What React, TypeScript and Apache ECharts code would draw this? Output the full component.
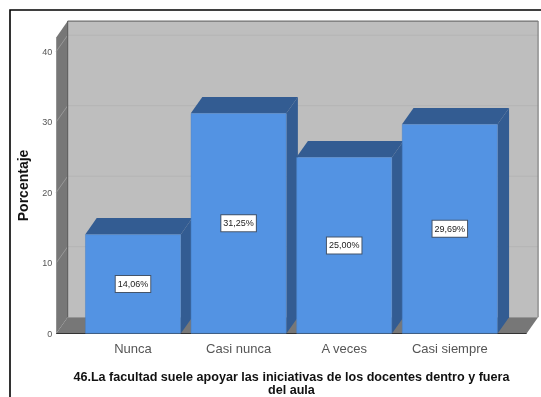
import React, { useEffect, useRef } from "react";
import * as echarts from "echarts";

const categories = ["Nunca", "Casi nunca", "A veces", "Casi siempre"];
const percentages = [14.06, 31.25, 25.0, 29.69];
const percentLabels = ["14,06%", "31,25%", "25,00%", "29,69%"];
const gridValues = [10, 20, 30, 40];
const axisMax = 42;
const axisTitle = "Porcentaje";
const chartTitle = "46.La facultad suele apoyar las iniciativas de los docentes dentro y fuera\ndel aula";

const DX = 11.5;
const DY = 16.3;
const SIDE_PAD = 24;
const WALL = "#777777";
const BACK = "#BEBEBE";
const FACE = "#5393E3";
const DEPTH = "#335C92";

function renderWalls(_: any, api: any) {
  const band = api.size([1, 0])[0];
  const l = api.coord([0, 0])[0] - band / 2 - SIDE_PAD;
  const r = api.coord([categories.length - 1, 0])[0] + band / 2 + SIDE_PAD;
  const y0 = api.coord([0, 0])[1];
  const yT = api.coord([0, axisMax])[1];
  const poly = (points: number[][], fill: string) => ({ type: "polygon", shape: { points }, style: { fill } });
  const line = (x1: number, y1: number, x2: number, y2: number, stroke: string, lineWidth = 1) => ({
    type: "line",
    shape: { x1, y1, x2, y2 },
    style: { stroke, lineWidth },
  });
  const children: any[] = [
    poly([[l + DX, yT - DY], [r + DX, yT - DY], [r + DX, y0 - DY], [l + DX, y0 - DY]], BACK),
    poly([[l, yT], [l + DX, yT - DY], [l + DX, y0 - DY], [l, y0]], WALL),
    poly([[l, y0], [r, y0], [r + DX, y0 - DY], [l + DX, y0 - DY]], WALL),
  ];
  gridValues.forEach((v) => {
    const y = api.coord([0, v])[1];
    children.push(line(l + DX, y - DY, r + DX, y - DY, "#B4B4B4"));
    children.push(line(l, y, l + DX, y - DY, "#989898"));
  });
  children.push(line(l + DX, yT - DY, r + DX, yT - DY, "#707070", 1.2));
  children.push(line(r + DX, yT - DY, r + DX, y0 - DY, "#808080", 1.2));
  children.push(line(l + DX, yT - DY, l + DX, y0 - DY, "#555555", 1));
  children.push(line(l, y0, r, y0, "#333333", 1));
  return { type: "group", children };
}

function renderDepth(_: any, api: any) {
  const idx = api.value(0);
  const c = api.coord([idx, api.value(1)]);
  const base = api.coord([idx, 0]);
  const w = api.size([1, 0])[0] * 0.905;
  const xl = c[0] - w / 2;
  const xr = c[0] + w / 2;
  return {
    type: "group",
    children: [
      {
        type: "polygon",
        shape: { points: [[xl, c[1]], [xr, c[1]], [xr + DX, c[1] - DY], [xl + DX, c[1] - DY]] },
        style: { fill: DEPTH },
      },
      {
        type: "polygon",
        shape: { points: [[xr, c[1]], [xr + DX, c[1] - DY], [xr + DX, base[1] - DY], [xr, base[1]]] },
        style: { fill: DEPTH },
      },
    ],
  };
}

export default function App() {
  const ref = useRef<HTMLDivElement>(null);
  useEffect(() => {
    document.body.style.margin = "0";
    const chart = echarts.init(ref.current!, undefined, { renderer: "svg" });
    chart.setOption({
      animation: false,
      backgroundColor: "#ffffff",
      textStyle: { fontFamily: "Liberation Sans" },
      graphic: [
        {
          type: "rect",
          silent: true,
          z: 100,
          shape: { x: 10, y: 10, width: 700, height: 600 },
          style: { fill: "none", stroke: "#000000", lineWidth: 1.6 },
        },
      ],
      grid: { left: 80.2, width: 422.4, top: 37.4, height: 296.1, outerBoundsMode: "none", containLabel: false },
      xAxis: {
        type: "category",
        data: categories,
        axisLine: { show: false },
        axisTick: { show: false },
        axisLabel: { color: "#555555", fontSize: 13, margin: 8 },
        name: chartTitle,
        nameLocation: "middle",
        nameGap: 37,
        nameTextStyle: { color: "#111111", fontSize: 12.6, fontWeight: "bold", lineHeight: 13, verticalAlign: "top" },
      },
      yAxis: {
        type: "value",
        min: 0,
        max: axisMax,
        interval: 10,
        axisLine: { show: false },
        axisTick: { show: false },
        splitLine: { show: false },
        axisLabel: { color: "#555555", fontSize: 9, margin: 28, showMaxLabel: false },
        name: axisTitle,
        nameLocation: "middle",
        nameGap: 50,
        nameTextStyle: { color: "#111111", fontSize: 14, fontWeight: "bold" },
      },
      series: [
        {
          type: "custom",
          z: 1,
          silent: true,
          renderItem: renderWalls,
          data: [[0, 0]],
          encode: { x: 0, y: 1 },
        },
        {
          type: "custom",
          z: 2,
          silent: true,
          renderItem: renderDepth,
          data: percentages.map((v, i) => [i, v]),
          encode: { x: 0, y: 1 },
        },
        {
          type: "bar",
          z: 3,
          barWidth: "90.5%",
          data: percentages,
          itemStyle: { color: FACE, borderColor: "#4A80C6", borderWidth: 0.5 },
          label: {
            show: true,
            position: "inside",
            formatter: (p: any) => percentLabels[p.dataIndex],
            color: "#222222",
            fontSize: 9,
            backgroundColor: "#ffffff",
            borderColor: "#44546A",
            borderWidth: 1,
            padding: [4, 2, 3, 2],
          },
        },
      ],
    });
    return () => chart.dispose();
  }, []);
  return <div ref={ref} style={{ width: 541, height: 397, filter: "blur(0.4px)" }} />;
}
